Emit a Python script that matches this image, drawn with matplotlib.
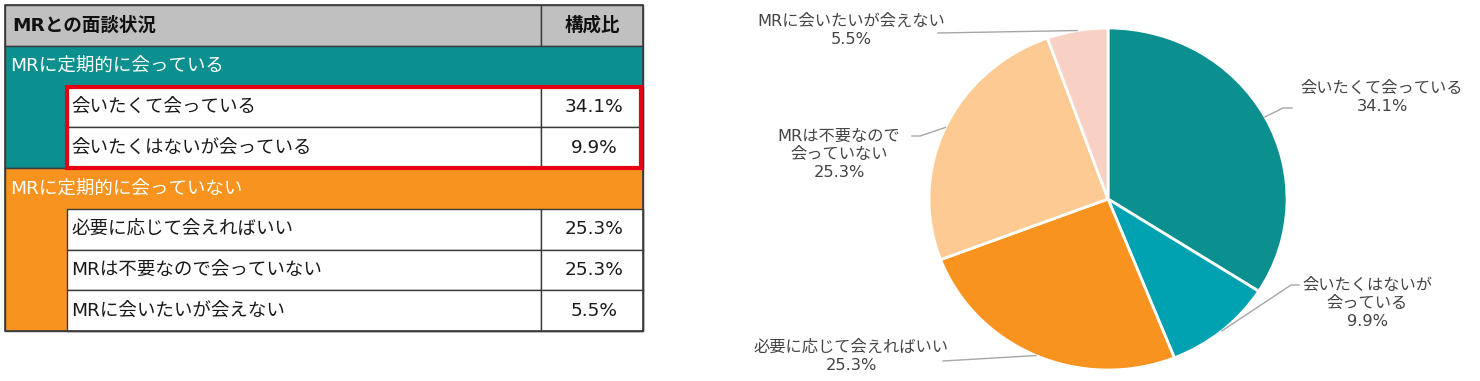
import numpy as np
import matplotlib.pyplot as plt
from matplotlib.patches import Rectangle

# 欧文は DejaVu、和文は Noto Sans CJK JP にフォールバック
plt.rcParams['font.family'] = ['DejaVu Sans', 'Noto Sans CJK JP']

# データ
header = ["MRとの面談状況", "構成比"]
groups = ["MRに定期的に会っている", "MRに定期的に会っていない"]
items = ["会いたくて会っている", "会いたくはないが会っている",
         "必要に応じて会えればいい", "MRは不要なので会っていない",
         "MRに会いたいが会えない"]
item_group = [0, 0, 1, 1, 1]
shares = [34.1, 9.9, 25.3, 25.3, 5.5]
pie_labels = ["会いたくて会っている", "会いたくはないが\n会っている",
              "必要に応じて会えればいい", "MRは不要なので\n会っていない",
              "MRに会いたいが会えない"]

group_colors = ["#0b8f8f", "#f7931e"]
pie_colors = ["#0b8f8f", "#00a2b2", "#f7931e", "#fdca93", "#f9d0c4"]

fig = plt.figure(figsize=(14.8, 3.81), dpi=100)

# 円グラフ (少し横長)
cx, cy, rx, ry = 1108, 199, 179, 171
ax_p = fig.add_axes([(cx - rx) / 1480, (381 - cy - ry) / 381, 2 * rx / 1480, 2 * ry / 381], zorder=1)
wedges, _ = ax_p.pie(shares, colors=pie_colors, startangle=90, counterclock=False,
                     wedgeprops=dict(edgecolor='white', linewidth=2))
ax_p.set_aspect('auto')
ax_p.set_xlim(-1, 1)
ax_p.set_ylim(-1, 1)

# 表と注釈はピクセル座標で
ax = fig.add_axes([0, 0, 1, 1], zorder=2)
ax.set_xlim(0, 1480)
ax.set_ylim(381, 0)
ax.axis('off')

x0, x_ind, x_val, x1 = 5, 67, 541, 643
y0, row_h = 5, 40.75
line_c = '#3a3a3a'
fs_tab = 13.3

def row_y(i):
    return y0 + i * row_h

# ヘッダー
ax.add_patch(Rectangle((x0, row_y(0)), x_val - x0, row_h, facecolor='#c0c0c0', edgecolor=line_c, lw=1))
ax.add_patch(Rectangle((x_val, row_y(0)), x1 - x_val, row_h, facecolor='#c0c0c0', edgecolor=line_c, lw=1))
ax.text(x0 + 7, row_y(0.5), header[0], fontsize=fs_tab, va='center', ha='left', color='#111111', weight='bold')
ax.text((x_val + x1) / 2, row_y(0.5), header[1], fontsize=fs_tab, va='center', ha='center', color='#111111', weight='bold')

r = 1
for g, gname in enumerate(groups):
    idx = [k for k, gg in enumerate(item_group) if gg == g]
    n = len(idx)
    ax.add_patch(Rectangle((x0, row_y(r)), x1 - x0, row_h * (n + 1), facecolor=group_colors[g],
                           edgecolor=line_c, lw=1))
    ax.text(x0 + 5, row_y(r + 0.5), gname, fontsize=fs_tab, va='center', ha='left', color='white')
    start = r + 1
    for j, k in enumerate(idx):
        rr = start + j
        ax.add_patch(Rectangle((x_ind, row_y(rr)), x_val - x_ind, row_h, facecolor='white', edgecolor=line_c, lw=1))
        ax.add_patch(Rectangle((x_val, row_y(rr)), x1 - x_val, row_h, facecolor='white', edgecolor=line_c, lw=1))
        ax.text(x_ind + 4, row_y(rr + 0.5), items[k], fontsize=fs_tab, va='center', ha='left', color='#1a1a1a')
        ax.text((x_val + x1) / 2 + 2, row_y(rr + 0.5), f"{shares[k]}%", fontsize=fs_tab, va='center',
                ha='center', color='#1a1a1a')
    r = start + n

ax.add_patch(Rectangle((x0, row_y(0)), x1 - x0, row_y(r) - row_y(0), facecolor='none', edgecolor=line_c, lw=1.2))

# 強調の赤枠
ax.add_patch(Rectangle((x_ind, row_y(2)), x1 - 2 - x_ind, 2 * row_h, facecolor='none', edgecolor='#e60012', lw=3))

# 円グラフのラベル
label_xy = [(1382, 97), (1367, 303), (851, 356), (839, 154), (851, 30)]
elbows = [(1283, 108), (1291, 285), (943, 361), (920, 136), (938, 33)]
ends = [(1292, 108), (1299, 285), (943, 361), (912, 136), (938, 33)]

to_px = ax.transData.inverted()
for w, lab, txy, el, en, s in zip(wedges, pie_labels, label_xy, elbows, ends, shares):
    th = np.deg2rad((w.theta1 + w.theta2) / 2)
    sx, sy = to_px.transform(ax_p.transData.transform((np.cos(th), np.sin(th))))
    ax.plot([sx, el[0], en[0]], [sy, el[1], en[1]], color='#a6a6a6', lw=1)
    ax.text(txy[0], txy[1], f"{lab}\n{s}%", fontsize=11.7, ha='center', va='center',
            color='#454545', linespacing=1.25)

fig.savefig('out.png', dpi=100)
